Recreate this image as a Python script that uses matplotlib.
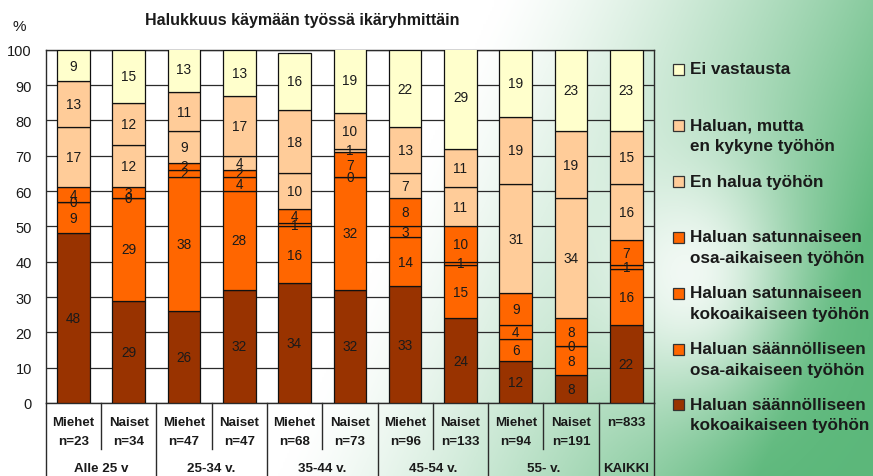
"""Halukkuus käymään työssä ikäryhmittäin -- stacked percentage bars."""
import numpy as np
import matplotlib

matplotlib.use("Agg")
import matplotlib.pyplot as plt  # noqa: E402
from matplotlib.patches import Rectangle  # noqa: E402
from matplotlib.transforms import blended_transform_factory  # noqa: E402

plt.rcParams["font.family"] = ["Liberation Sans", "DejaVu Sans"]

# --- data (bars left to right, series bottom to top) ---
SEXES = ["Miehet", "Naiset", "Miehet", "Naiset", "Miehet", "Naiset",
         "Miehet", "Naiset", "Miehet", "Naiset", ""]
N_LABELS = ["n=23", "n=34", "n=47", "n=47", "n=68", "n=73",
            "n=96", "n=133", "n=94", "n=191", "n=833"]
GROUPS = ["Alle 25 v", "25-34 v.", "35-44 v.", "45-54 v.", "55- v.", "KAIKKI"]
GROUP_SIZES = [2, 2, 2, 2, 2, 1]

saan_koko = [48, 29, 26, 32, 34, 32, 33, 24, 12, 8, 22]
saan_osa = [9, 29, 38, 28, 16, 32, 14, 15, 6, 8, 16]
sat_koko = [0, 0, 2, 4, 1, 0, 3, 1, 4, 0, 1]
sat_osa = [4, 3, 2, 2, 4, 7, 8, 10, 9, 8, 7]
en_halua = [17, 12, 9, 4, 10, 1, 7, 11, 31, 34, 16]
ei_kykene = [13, 12, 11, 17, 18, 10, 13, 11, 19, 19, 15]
ei_vast = [9, 15, 13, 13, 16, 19, 22, 29, 19, 23, 23]

SERIES = [
    (saan_koko, "#993300", ["Haluan säännölliseen", "kokoaikaiseen työhön"]),
    (saan_osa, "#FF6600", ["Haluan säännölliseen", "osa-aikaiseen työhön"]),
    (sat_koko, "#FF6600", ["Haluan satunnaiseen", "kokoaikaiseen työhön"]),
    (sat_osa, "#FF6600", ["Haluan satunnaiseen", "osa-aikaiseen työhön"]),
    (en_halua, "#FFCC99", ["En halua työhön"]),
    (ei_kykene, "#FFCC99", ["Haluan, mutta", "en kykyne työhön"]),
    (ei_vast, "#FFFFCC", ["Ei vastausta"]),
]

W, H = 873, 477
LINE = "#2b2b2b"
TXT = "#1a1a1a"


def px(x, y):
    """pixel (from top-left) -> figure fraction"""
    return x / W, 1 - y / H


fig = plt.figure(figsize=(W / 100, H / 100), dpi=100)

# background: white on the left, green towards the right with a soft glow
bg = fig.add_axes([0, 0, 1, 1], zorder=-10)
xx, yy = np.meshgrid(np.linspace(0, 1, 400), np.linspace(0, 1, 220))
s = xx + 0.25 * yy - 0.12
g = np.clip((s - 0.45) / 0.55, 0, 1) ** 1.3
glow = np.exp(-(((xx - 0.79) / 0.11) ** 2 + ((yy - 0.58) / 0.25) ** 2))
g = np.clip(g * (1 - 0.85 * glow), 0, 1)
green = np.array([0.36, 0.72, 0.48])
img = (1 - g[..., None]) * np.ones(3) + g[..., None] * green
bg.imshow(img, extent=[0, 1, 0, 1], aspect="auto", origin="upper")
bg.set_axis_off()

l0, t0 = px(45.7, 50.7)
r0, b0 = px(654, 404)
ax = fig.add_axes([l0, b0, r0 - l0, t0 - b0])
ax.set_facecolor("none")

x = np.arange(len(N_LABELS))
bottom = np.zeros(len(x))
for vals, color, _ in SERIES:
    vals = np.array(vals, dtype=float)
    ax.bar(x, vals, bottom=bottom, width=0.59, color=color,
           edgecolor="#111111", linewidth=0.9, zorder=3)
    for xi, b, v in zip(x, bottom, vals):
        ax.text(xi, b + v / 2, f"{v:.0f}", ha="center", va="center",
                fontsize=9.8, color=TXT, zorder=4, clip_on=True)
    bottom += vals

ax.set_xlim(-0.5, len(x) - 0.5)
ax.set_ylim(0, 100)
ax.set_yticks(range(0, 101, 10))
ax.tick_params(axis="y", length=0, pad=10, labelsize=10.5, labelcolor=TXT)
ax.set_xticks([])
ax.grid(axis="y", color=LINE, lw=0.9, zorder=0)
for sp in ax.spines.values():
    sp.set_color(LINE)
    sp.set_linewidth(1.0)

# category table under the axis
tr = blended_transform_factory(ax.transData, ax.transAxes)
bottom_edge = -(H - 404) / (404 - 50.7)
for xi, sex, n in zip(x, SEXES, N_LABELS):
    if sex:
        ax.text(xi, -0.054, sex, transform=tr, ha="center", va="center",
                fontsize=9.6, fontweight="bold", color=TXT, clip_on=False)
        ax.text(xi, -0.107, n, transform=tr, ha="center", va="center",
                fontsize=9.6, fontweight="bold", color=TXT, clip_on=False)
    else:
        ax.text(xi, -0.054, n, transform=tr, ha="center", va="center",
                fontsize=9.6, fontweight="bold", color=TXT, clip_on=False)

start = 0
bounds = [-0.5]
for name, size in zip(GROUPS, GROUP_SIZES):
    mid = start + (size - 1) / 2
    ax.text(mid, -0.184, name, transform=tr, ha="center", va="center",
            fontsize=9.6, fontweight="bold", color=TXT, clip_on=False)
    if size == 2:
        ax.plot([start + 0.5] * 2, [0, -0.13], transform=tr, color=LINE,
                lw=1.0, clip_on=False)
    start += size
    bounds.append(start - 0.5)
for bx in bounds:
    ax.plot([bx, bx], [0, bottom_edge], transform=tr, color=LINE, lw=1.0,
            clip_on=False)

# titles
fig.text(*px(302, 20), "Halukkuus käymään työssä ikäryhmittäin", ha="center",
         va="center", fontsize=11.5, fontweight="bold", color=TXT)
fig.text(*px(19, 27), "%", ha="center", va="center", fontsize=11, color=TXT)

# legend (top to bottom)
legend_y = [70, 126, 182, 238, 294, 350, 405]
for (vals, color, lines), y0 in zip(SERIES[::-1], legend_y):
    sx, sy = px(673, y0 + 5.5)
    fig.patches.append(Rectangle((sx, sy), 11 / W, 11 / H, facecolor=color,
                                 edgecolor="#333333", lw=0.9,
                                 transform=fig.transFigure, figure=fig))
    for k, line in enumerate(lines):
        fig.text(*px(690, y0 + 21 * k), line, ha="left", va="center",
                 fontsize=12.3, fontweight="bold", color=TXT)

fig.savefig("out.png", dpi=100)
